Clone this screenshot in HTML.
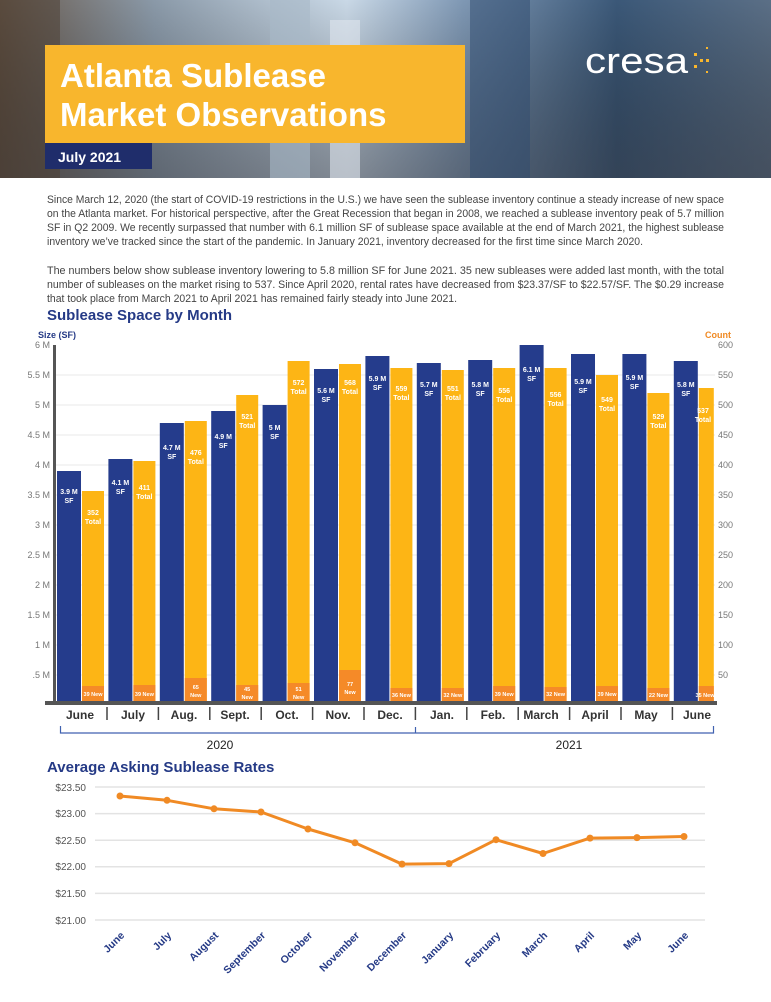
<!DOCTYPE html>
<html><head><meta charset="utf-8"><style>
body{margin:0;width:771px;height:997px;overflow:hidden;background:#fff;font-family:"Liberation Sans",sans-serif}
</style></head><body>
<svg width="771" height="997" viewBox="0 0 771 997" xmlns="http://www.w3.org/2000/svg" font-family="Liberation Sans, sans-serif">
<defs>
<linearGradient id="sky" x1="0" y1="0" x2="1" y2="0">
<stop offset="0" stop-color="#6a5a4c"/><stop offset="0.2" stop-color="#8a99a8"/><stop offset="0.45" stop-color="#c9d8e6"/><stop offset="0.6" stop-color="#7f98b4"/><stop offset="0.8" stop-color="#3b5878"/><stop offset="1" stop-color="#5b6f86"/>
</linearGradient>
<linearGradient id="shade" x1="0" y1="0" x2="0" y2="1">
<stop offset="0" stop-color="#000" stop-opacity="0"/><stop offset="1" stop-color="#2a2a30" stop-opacity="0.45"/>
</linearGradient>
</defs>
<rect x="0" y="0" width="771" height="178" fill="url(#sky)"/>
<rect x="0" y="0" width="771" height="178" fill="url(#shade)"/>
<rect x="270" y="0" width="40" height="178" fill="#a9b9c8" opacity="0.6"/>
<rect x="330" y="20" width="30" height="158" fill="#dfe6ee" opacity="0.6"/>
<rect x="470" y="0" width="60" height="178" fill="#2e4a6e" opacity="0.5"/>
<rect x="0" y="0" width="60" height="178" fill="#4a3c30" opacity="0.5"/>
<rect x="45" y="45" width="420" height="98" fill="#f8b62d"/>
<text x="60" y="87" font-size="33" font-weight="bold" fill="#fff">Atlanta Sublease</text>
<text x="60" y="126" font-size="33" font-weight="bold" fill="#fff">Market Observations</text>
<rect x="45" y="143" width="107" height="26" fill="#1f2d6b"/>
<text x="58" y="162" font-size="14" font-weight="bold" fill="#fff">July 2021</text>
<text x="585" y="73" font-size="36" fill="#fff" textLength="103" lengthAdjust="spacingAndGlyphs">cresa</text>
<g fill="#f8b62d"><rect x="694" y="53" width="3" height="3"/><rect x="700" y="59" width="3" height="3"/><rect x="694" y="65" width="3" height="3"/><rect x="706" y="59" width="3" height="3"/><rect x="706" y="47" width="2" height="2"/><rect x="706" y="71" width="2" height="2"/></g>

<g font-size="11.4" fill="#444" lengthAdjust="spacingAndGlyphs">
<text x="47" y="203" textLength="677" lengthAdjust="spacingAndGlyphs">Since March 12, 2020 (the start of COVID-19 restrictions in the U.S.) we have seen the sublease inventory continue a steady increase of new space</text>
<text x="47" y="217" textLength="677" lengthAdjust="spacingAndGlyphs">on the Atlanta market. For historical perspective, after the Great Recession that began in 2008, we reached a sublease inventory peak of 5.7 million</text>
<text x="47" y="231" textLength="677" lengthAdjust="spacingAndGlyphs">SF in Q2 2009. We recently surpassed that number with 6.1 million SF of sublease space available at the end of March 2021, the highest sublease</text>
<text x="47" y="245" textLength="596" lengthAdjust="spacingAndGlyphs">inventory we’ve tracked since the start of the pandemic. In January 2021, inventory decreased for the first time since March 2020.</text>
<text x="47" y="274" textLength="677" lengthAdjust="spacingAndGlyphs">The numbers below show sublease inventory lowering to 5.8 million SF for June 2021. 35 new subleases were added last month, with the total</text>
<text x="47" y="288" textLength="677" lengthAdjust="spacingAndGlyphs">number of subleases on the market rising to 537. Since April 2020, rental rates have decreased from $23.37/SF to $22.57/SF. The $0.29 increase</text>
<text x="47" y="302" textLength="410" lengthAdjust="spacingAndGlyphs">that took place from March 2021 to April 2021 has remained fairly steady into June 2021.</text>
</g>

<text x="47" y="320" font-size="15" font-weight="bold" fill="#253a86">Sublease Space by Month</text>
<text x="38" y="338" font-size="9" font-weight="bold" fill="#253a86">Size (SF)</text>
<text x="731" y="338" font-size="9" font-weight="bold" fill="#f08a24" text-anchor="end">Count</text>

<g stroke="#e8e8e8" stroke-width="1">
<line x1="55" y1="375" x2="715" y2="375"/><line x1="55" y1="405" x2="715" y2="405"/><line x1="55" y1="435" x2="715" y2="435"/><line x1="55" y1="465" x2="715" y2="465"/><line x1="55" y1="495" x2="715" y2="495"/><line x1="55" y1="525" x2="715" y2="525"/><line x1="55" y1="555" x2="715" y2="555"/><line x1="55" y1="585" x2="715" y2="585"/><line x1="55" y1="615" x2="715" y2="615"/><line x1="55" y1="645" x2="715" y2="645"/><line x1="55" y1="675" x2="715" y2="675"/>
</g>
<g font-size="9" fill="#777" text-anchor="end">
<text x="50" y="348">6 M</text><text x="50" y="378">5.5 M</text><text x="50" y="408">5 M</text><text x="50" y="438">4.5 M</text><text x="50" y="468">4 M</text><text x="50" y="498">3.5 M</text><text x="50" y="528">3 M</text><text x="50" y="558">2.5 M</text><text x="50" y="588">2 M</text><text x="50" y="618">1.5 M</text><text x="50" y="648">1 M</text><text x="50" y="678">.5 M</text>
</g>
<g font-size="9" fill="#777">
<text x="718" y="348">600</text><text x="718" y="378">550</text><text x="718" y="408">500</text><text x="718" y="438">450</text><text x="718" y="468">400</text><text x="718" y="498">350</text><text x="718" y="528">300</text><text x="718" y="558">250</text><text x="718" y="588">200</text><text x="718" y="618">150</text><text x="718" y="648">100</text><text x="718" y="678">50</text>
</g>
<rect x="53" y="345" width="3" height="358" fill="#555"/>

<g fill="#253c8c">
<rect x="57" y="471" width="24" height="230"/>
<rect x="108.4" y="459" width="24" height="242"/>
<rect x="159.8" y="423" width="24" height="278"/>
<rect x="211.2" y="411" width="24" height="290"/>
<rect x="262.6" y="405" width="24" height="296"/>
<rect x="314" y="369" width="24" height="332"/>
<rect x="365.4" y="356" width="24" height="345"/>
<rect x="416.8" y="363" width="24" height="338"/>
<rect x="468.2" y="360" width="24" height="341"/>
<rect x="519.6" y="345" width="24" height="356"/>
<rect x="571" y="354" width="24" height="347"/>
<rect x="622.4" y="354" width="24" height="347"/>
<rect x="673.8" y="361" width="24" height="340"/>
</g>
<g fill="#fdb515">
<rect x="82" y="491" width="22" height="210"/>
<rect x="133.4" y="461" width="22" height="240"/>
<rect x="184.8" y="421" width="22" height="280"/>
<rect x="236.2" y="395" width="22" height="306"/>
<rect x="287.6" y="361" width="22" height="340"/>
<rect x="339" y="364" width="22" height="337"/>
<rect x="390.4" y="368" width="22" height="333"/>
<rect x="441.8" y="370" width="22" height="331"/>
<rect x="493.2" y="368" width="22" height="333"/>
<rect x="544.6" y="368" width="22" height="333"/>
<rect x="596" y="375" width="22" height="326"/>
<rect x="647.4" y="393" width="22" height="308"/>
<rect x="698.8" y="388" width="15" height="313"/>
</g>
<g fill="#f58a28">
<rect x="82" y="686" width="22" height="15"/>
<rect x="133.4" y="685" width="22" height="16"/>
<rect x="184.8" y="678" width="22" height="23"/>
<rect x="236.2" y="685" width="22" height="16"/>
<rect x="287.6" y="683" width="22" height="18"/>
<rect x="339" y="670" width="22" height="31"/>
<rect x="390.4" y="688" width="22" height="13"/>
<rect x="441.8" y="688" width="22" height="13"/>
<rect x="493.2" y="686" width="22" height="15"/>
<rect x="544.6" y="687" width="22" height="14"/>
<rect x="596" y="686" width="22" height="15"/>
<rect x="647.4" y="688" width="22" height="13"/>
<rect x="698.8" y="686" width="15" height="15"/>
</g>
<rect x="45" y="701" width="672" height="4" fill="#555"/>

<g font-size="7" font-weight="bold" fill="#fff" text-anchor="middle">
<text x="69" y="494">3.9 M</text><text x="69" y="503">SF</text>
<text x="120.4" y="485">4.1 M</text><text x="120.4" y="494">SF</text>
<text x="171.8" y="450">4.7 M</text><text x="171.8" y="459">SF</text>
<text x="223.2" y="439">4.9 M</text><text x="223.2" y="448">SF</text>
<text x="274.6" y="430">5 M</text><text x="274.6" y="439">SF</text>
<text x="326" y="393">5.6 M</text><text x="326" y="402">SF</text>
<text x="377.4" y="381">5.9 M</text><text x="377.4" y="390">SF</text>
<text x="428.8" y="387">5.7 M</text><text x="428.8" y="396">SF</text>
<text x="480.2" y="387">5.8 M</text><text x="480.2" y="396">SF</text>
<text x="531.6" y="372">6.1 M</text><text x="531.6" y="381">SF</text>
<text x="583" y="384">5.9 M</text><text x="583" y="393">SF</text>
<text x="634.4" y="380">5.9 M</text><text x="634.4" y="389">SF</text>
<text x="685.8" y="387">5.8 M</text><text x="685.8" y="396">SF</text>
<text x="93" y="515">352</text><text x="93" y="524">Total</text>
<text x="144.4" y="490">411</text><text x="144.4" y="499">Total</text>
<text x="195.8" y="455">476</text><text x="195.8" y="464">Total</text>
<text x="247.2" y="419">521</text><text x="247.2" y="428">Total</text>
<text x="298.6" y="385">572</text><text x="298.6" y="394">Total</text>
<text x="350" y="385">568</text><text x="350" y="394">Total</text>
<text x="401.4" y="391">559</text><text x="401.4" y="400">Total</text>
<text x="452.8" y="391">551</text><text x="452.8" y="400">Total</text>
<text x="504.2" y="393">556</text><text x="504.2" y="402">Total</text>
<text x="555.6" y="397">556</text><text x="555.6" y="406">Total</text>
<text x="607" y="402">549</text><text x="607" y="411">Total</text>
<text x="658.4" y="419">529</text><text x="658.4" y="428">Total</text>
<text x="703" y="413">537</text><text x="703" y="422">Total</text>
</g>
<g font-size="5.5" font-weight="bold" fill="#fff" text-anchor="middle">
<text x="93" y="696">39 New</text>
<text x="144.4" y="696">39 New</text>
<text x="195.8" y="689">65</text><text x="195.8" y="697">New</text>
<text x="247.2" y="691">45</text><text x="247.2" y="699">New</text>
<text x="298.6" y="691">51</text><text x="298.6" y="699">New</text>
<text x="350" y="686">77</text><text x="350" y="694">New</text>
<text x="401.4" y="697">36 New</text>
<text x="452.8" y="697">32 New</text>
<text x="504.2" y="696">39 New</text>
<text x="555.6" y="696">32 New</text>
<text x="607" y="696">39 New</text>
<text x="658.4" y="697">22 New</text>
<text x="705" y="697">35 New</text>
</g>

<g stroke="#444" stroke-width="1.5">
<line x1="107" y1="707" x2="107" y2="720"/><line x1="158.4" y1="707" x2="158.4" y2="720"/><line x1="209.8" y1="707" x2="209.8" y2="720"/><line x1="261.2" y1="707" x2="261.2" y2="720"/><line x1="312.6" y1="707" x2="312.6" y2="720"/><line x1="364" y1="707" x2="364" y2="720"/><line x1="415.4" y1="707" x2="415.4" y2="720"/><line x1="466.8" y1="707" x2="466.8" y2="720"/><line x1="518.2" y1="707" x2="518.2" y2="720"/><line x1="569.6" y1="707" x2="569.6" y2="720"/><line x1="621" y1="707" x2="621" y2="720"/><line x1="672.4" y1="707" x2="672.4" y2="720"/>
</g>
<g font-size="12" font-weight="bold" fill="#333" text-anchor="middle">
<text x="80" y="719">June</text><text x="133" y="719">July</text><text x="184" y="719">Aug.</text><text x="235" y="719">Sept.</text><text x="287" y="719">Oct.</text><text x="338" y="719">Nov.</text><text x="390" y="719">Dec.</text><text x="442" y="719">Jan.</text><text x="493" y="719">Feb.</text><text x="541" y="719">March</text><text x="595" y="719">April</text><text x="646" y="719">May</text><text x="697" y="719">June</text>
</g>
<path d="M60.5 726 V733 H713.5 V726 M415.5 733 V727" fill="none" stroke="#4062b0" stroke-width="1.2"/>
<text x="220" y="749" font-size="12" fill="#222" text-anchor="middle">2020</text>
<text x="569" y="749" font-size="12" fill="#222" text-anchor="middle">2021</text>

<text x="47" y="772" font-size="15" font-weight="bold" fill="#253a86">Average Asking Sublease Rates</text>
<g stroke="#e3e3e3" stroke-width="1.5">
<line x1="95" y1="787" x2="705" y2="787"/><line x1="95" y1="813.6" x2="705" y2="813.6"/><line x1="95" y1="840.2" x2="705" y2="840.2"/><line x1="95" y1="866.8" x2="705" y2="866.8"/><line x1="95" y1="893.4" x2="705" y2="893.4"/><line x1="95" y1="920" x2="705" y2="920"/>
</g>
<g font-size="10" fill="#555" text-anchor="end">
<text x="86" y="791">$23.50</text><text x="86" y="817">$23.00</text><text x="86" y="844">$22.50</text><text x="86" y="870">$22.00</text><text x="86" y="897">$21.50</text><text x="86" y="924">$21.00</text>
</g>
<polyline fill="none" stroke="#f08a24" stroke-width="3" stroke-linejoin="round" points="120,796 167,800.3 214,808.8 261,812 308,829 355,842.8 402,864.1 449,863.6 496,839.7 543,853.5 590,838.1 637,837.6 684,836.5"/>
<g fill="#f08a24">
<circle cx="120" cy="796" r="3.5"/><circle cx="167" cy="800.3" r="3.5"/><circle cx="214" cy="808.8" r="3.5"/><circle cx="261" cy="812" r="3.5"/><circle cx="308" cy="829" r="3.5"/><circle cx="355" cy="842.8" r="3.5"/><circle cx="402" cy="864.1" r="3.5"/><circle cx="449" cy="863.6" r="3.5"/><circle cx="496" cy="839.7" r="3.5"/><circle cx="543" cy="853.5" r="3.5"/><circle cx="590" cy="838.1" r="3.5"/><circle cx="637" cy="837.6" r="3.5"/><circle cx="684" cy="836.5" r="3.5"/>
</g>
<g font-size="10.5" font-weight="bold" fill="#253a86" text-anchor="end">
<text transform="translate(125,936) rotate(-45)">June</text>
<text transform="translate(172,936) rotate(-45)">July</text>
<text transform="translate(219,936) rotate(-45)">August</text>
<text transform="translate(266,936) rotate(-45)">September</text>
<text transform="translate(313,936) rotate(-45)">October</text>
<text transform="translate(360,936) rotate(-45)">November</text>
<text transform="translate(407,936) rotate(-45)">December</text>
<text transform="translate(454,936) rotate(-45)">January</text>
<text transform="translate(501,936) rotate(-45)">February</text>
<text transform="translate(548,936) rotate(-45)">March</text>
<text transform="translate(595,936) rotate(-45)">April</text>
<text transform="translate(642,936) rotate(-45)">May</text>
<text transform="translate(689,936) rotate(-45)">June</text>
</g>
</svg>
</body></html>
